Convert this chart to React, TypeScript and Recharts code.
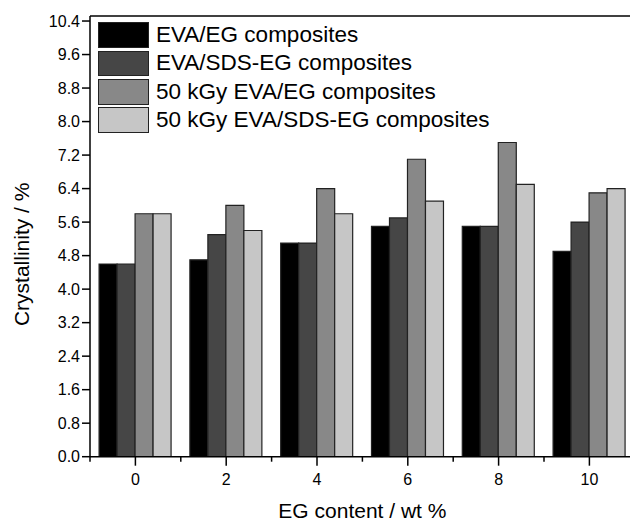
import { BarChart, Bar, XAxis, YAxis, Legend, ReferenceLine, Label } from "recharts";

const categories = ["0", "2", "4", "6", "8", "10"];
const evaEg = [4.6, 4.7, 5.1, 5.5, 5.5, 4.9];
const evaSdsEg = [4.6, 5.3, 5.1, 5.7, 5.5, 5.6];
const kgyEvaEg = [5.8, 6.0, 6.4, 7.1, 7.5, 6.3];
const kgyEvaSdsEg = [5.8, 5.4, 5.8, 6.1, 6.5, 6.4];

const yTicks = [0, 0.8, 1.6, 2.4, 3.2, 4.0, 4.8, 5.6, 6.4, 7.2, 8.0, 8.8, 9.6, 10.4];
const yMax = 10.52;

const series = [
  { key: "evaEg", name: "EVA/EG composites", fill: "#000000" },
  { key: "evaSdsEg", name: "EVA/SDS-EG composites", fill: "#464646" },
  { key: "kgyEvaEg", name: "50 kGy EVA/EG composites", fill: "#888888" },
  { key: "kgyEvaSdsEg", name: "50 kGy EVA/SDS-EG composites", fill: "#c6c6c6" },
];

const data = categories.map((c, i) => ({
  content: c,
  evaEg: evaEg[i],
  evaSdsEg: evaSdsEg[i],
  kgyEvaEg: kgyEvaEg[i],
  kgyEvaSdsEg: kgyEvaSdsEg[i],
}));

const FONT = "'Liberation Sans', Arial, sans-serif";
const CHART_W = 640;
const MARGIN_R = 5.2;
const Y_W = 90;
const BAND = (CHART_W - MARGIN_R - Y_W) / categories.length;

// major tick + label at the band centre, short minor tick at the band edges
function XTick(props: any) {
  const { x, y, payload, index } = props;
  const last = index === categories.length - 1;
  return (
    <g>
      <line x1={x} x2={x} y1={y} y2={y + 9} stroke="#000" strokeWidth={1.5} />
      <line x1={x - BAND / 2} x2={x - BAND / 2} y1={y} y2={y + 5} stroke="#000" strokeWidth={1.5} />
      {last && <line x1={x + BAND / 2} x2={x + BAND / 2} y1={y} y2={y + 5} stroke="#000" strokeWidth={1.5} />}
      <text x={x} y={y + 28} textAnchor="middle" fontSize={16} fontFamily={FONT} fill="#000">
        {payload.value}
      </text>
    </g>
  );
}

function YTitle(props: any) {
  const { viewBox } = props;
  const cy = viewBox.y + viewBox.height / 2 + 18;
  return (
    <text
      x={22}
      y={cy}
      transform={`rotate(-90 22 ${cy})`}
      textAnchor="middle"
      dominantBaseline="central"
      fontSize={21}
      fontFamily={FONT}
      fill="#000"
    >
      Crystallinity / %
    </text>
  );
}

function LegendBox() {
  return (
    <div style={{ fontFamily: FONT }}>
      {series.map((s) => (
        <div key={s.key} style={{ display: "flex", alignItems: "center", height: 28.3 }}>
          <div
            style={{
              boxSizing: "border-box",
              width: 51,
              height: 25.6,
              background: s.fill,
              border: "1.3px solid #222",
            }}
          />
          <span style={{ marginLeft: 7, fontSize: 22.5, color: "#000", whiteSpace: "nowrap" }}>{s.name}</span>
        </div>
      ))}
    </div>
  );
}

export default function App() {
  return (
    <div style={{ position: "absolute", left: 0, top: 0, width: 630, height: 521, overflow: "hidden", background: "#fff" }}>
      <BarChart
        width={CHART_W}
        height={521}
        data={data}
        margin={{ top: 16, right: MARGIN_R, left: 0, bottom: 0.3 }}
        barCategoryGap="10%"
        barGap={0}
      >
        <XAxis
          dataKey="content"
          height={64}
          tickSize={0}
          tickMargin={0}
          tickLine={false}
          tick={<XTick />}
          axisLine={{ stroke: "#000", strokeWidth: 1.5 }}
          interval={0}
        >
          <Label
            value="EG content / wt %"
            position="insideBottom"
            offset={3}
            style={{ fontSize: 21, fontFamily: FONT, fill: "#000" }}
          />
        </XAxis>
        <YAxis
          domain={[0, yMax]}
          ticks={yTicks}
          tickFormatter={(v: number) => v.toFixed(1)}
          width={Y_W}
          tickSize={8}
          interval={0}
          tick={{ fontSize: 16, fontFamily: FONT, fill: "#000" }}
          tickLine={{ stroke: "#000", strokeWidth: 1.5 }}
          axisLine={{ stroke: "#000", strokeWidth: 1.5 }}
          allowDataOverflow
        >
          <Label content={<YTitle />} />
        </YAxis>
        <ReferenceLine y={yMax} stroke="#000" strokeWidth={1.5} />
        <Legend
          layout="horizontal"
          align="center"
          verticalAlign="middle"
          content={<LegendBox />}
          wrapperStyle={{ position: "absolute", left: 98, top: 21, width: "auto" }}
        />
        {series.map((s) => (
          <Bar
            key={s.key}
            dataKey={s.key}
            name={s.name}
            fill={s.fill}
            stroke="#222"
            strokeWidth={1.2}
            isAnimationActive={false}
          />
        ))}
      </BarChart>
    </div>
  );
}
